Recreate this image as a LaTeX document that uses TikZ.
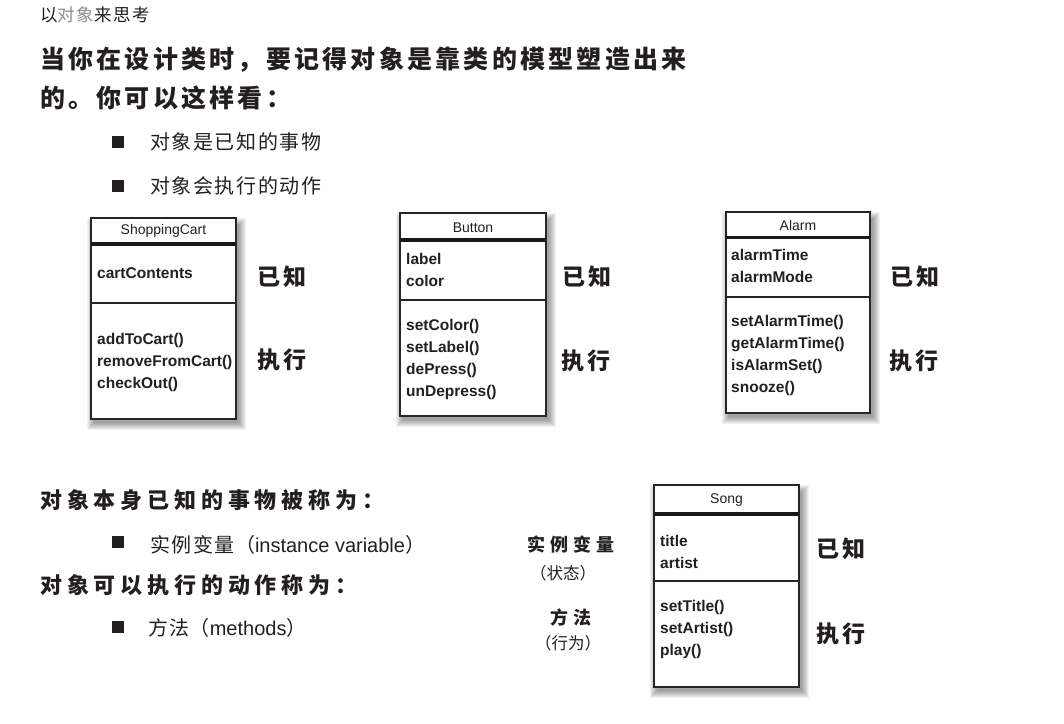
\documentclass[tikz,border=0pt]{standalone}
\usepackage{fontspec}
\setmainfont{Liberation Sans}
\newfontfamily\cjk{Noto Sans CJK SC}
\newfontfamily\cjkbody{Noto Sans CJK SC}[LetterSpace=8]
\newfontfamily\hand{Noto Sans CJK SC}[LetterSpace=13]
\newfontfamily\handwide{Noto Sans CJK SC}[LetterSpace=22]
\newfontfamily\handside{Noto Sans CJK SC}[LetterSpace=28]
\newfontfamily\cjkhdr{Noto Sans CJK SC}[LetterSpace=10]
\usetikzlibrary{calc,backgrounds}
\definecolor{ink}{HTML}{231F20}
\definecolor{greyink}{HTML}{8C8C8C}
\newcommand{\boxshadow}[1]{%
  \begin{scope}[on background layer]
    \foreach \i in {1,...,8}
      \fill[black, opacity=.055] ($(#1.north west)+(4-\i,8-\i)$) rectangle ($(#1.south east)+(2+\i,3+\i)$);
  \end{scope}}
\begin{document}
\begin{tikzpicture}[x=1pt,y=-1pt,
  umlbox/.style={draw=black!85, line width=1.5pt, fill=white, rectangle, inner sep=0pt, outer sep=0pt, anchor=north west},
  septhick/.style={draw=black!90, line width=3.5pt},
  septhin/.style={draw=black!85, line width=1.4pt},
  cname/.style={font=\fontsize{14}{16}\selectfont, text=ink, inner sep=0pt},
  attr/.style={font=\bfseries\fontsize{15.5}{18}\selectfont, text=ink, inner sep=0pt, anchor=base west},
  titletext/.style={font=\hand\bfseries\fontsize{25}{30}\selectfont, text=ink, inner sep=0pt, anchor=west},
  lbl/.style={font=\hand\bfseries\fontsize{23}{28}\selectfont, text=ink, inner sep=0pt, anchor=west},
  subhead/.style={font=\handwide\bfseries\fontsize{22}{26}\selectfont, text=ink, inner sep=0pt, anchor=west},
  sidelbl/.style={font=\handside\bfseries\fontsize{18}{22}\selectfont, text=ink, inner sep=0pt},
  sidenote/.style={font=\cjk\fontsize{16.5}{20}\selectfont, text=ink, inner sep=0pt},
  bodytext/.style={font=\cjkbody\fontsize{20}{24}\selectfont, text=ink, inner sep=0pt, anchor=west},
  bulletsq/.style={fill=ink, minimum size=12pt, inner sep=0pt, outer sep=0pt}]
\useasboundingbox (0,0) rectangle (1064,723);

% header
\node[font=\cjkhdr\fontsize{17.5}{20}\selectfont, text=ink, inner sep=0pt, anchor=west] (hdr) at (40,15) {以{\color{greyink}对象}来思考};

% title
\node[titletext] (title1) at (40,60) {当你在设计类时，要记得对象是靠类的模型塑造出来};
\node[titletext] (title2) at (40,98) {的。你可以这样看：};

% bullets
\node[bulletsq] (bq1) at (118,142) {};
\node[bodytext] (bt1) at (150,142) {对象是已知的事物};
\node[bulletsq] (bq2) at (118,186) {};
\node[bodytext] (bt2) at (150,186) {对象会执行的动作};

% ShoppingCart
\node[umlbox, minimum width=145pt, minimum height=201pt] (cart) at (91,218) {};
\boxshadow{cart}
\node[cname] (cartT) at ($(cart.north)+(0,13)$) {ShoppingCart};
\draw[septhick] ($(cart.north west)+(0,26)$) -- ($(cart.north east)+(0,26)$);
\draw[septhin] ($(cart.north west)+(0,85)$) -- ($(cart.north east)+(0,85)$);
\node[attr] (cartA1) at (97,278) {cartContents};
\node[attr] (cartM1) at (97,344) {addToCart()};
\node[attr] (cartM2) at (97,366) {removeFromCart()};
\node[attr] (cartM3) at (97,388) {checkOut()};
\node[lbl] (cartK) at (257,277) {已知};
\node[lbl] (cartD) at (257,360) {执行};

% Button
\node[umlbox, minimum width=146pt, minimum height=203pt] (btn) at (400,213) {};
\boxshadow{btn}
\node[cname] (btnT) at ($(btn.north)+(0,15)$) {Button};
\draw[septhick] ($(btn.north west)+(0,27)$) -- ($(btn.north east)+(0,27)$);
\draw[septhin] ($(btn.north west)+(0,87)$) -- ($(btn.north east)+(0,87)$);
\node[attr] (btnA1) at (406,264) {label};
\node[attr] (btnA2) at (406,286) {color};
\node[attr] (btnM1) at (406,330) {setColor()};
\node[attr] (btnM2) at (406,352) {setLabel()};
\node[attr] (btnM3) at (406,374) {dePress()};
\node[attr] (btnM4) at (406,396) {unDepress()};
\node[lbl] (btnK) at (562,277) {已知};
\node[lbl] (btnD) at (561,361) {执行};

% Alarm
\node[umlbox, minimum width=144pt, minimum height=201pt] (alarm) at (726,212) {};
\boxshadow{alarm}
\node[cname] (alarmT) at ($(alarm.north)+(0,13)$) {Alarm};
\draw[septhick] ($(alarm.north west)+(0,25.5)$) -- ($(alarm.north east)+(0,25.5)$);
\draw[septhin] ($(alarm.north west)+(0,85)$) -- ($(alarm.north east)+(0,85)$);
\node[attr] (alarmA1) at (731,260) {alarmTime};
\node[attr] (alarmA2) at (731,282) {alarmMode};
\node[attr] (alarmM1) at (731,326) {setAlarmTime()};
\node[attr] (alarmM2) at (731,348) {getAlarmTime()};
\node[attr] (alarmM3) at (731,370) {isAlarmSet()};
\node[attr] (alarmM4) at (731,392) {snooze()};
\node[lbl] (alarmK) at (890,277) {已知};
\node[lbl] (alarmD) at (889,361) {执行};

% lower text
\node[subhead] (sub1) at (40,500) {对象本身已知的事物被称为：};
\node[bulletsq] (bq3) at (118,542) {};
\node[bodytext] (bt3) at (150,545) {实例变量{\cjk （}{\rmfamily instance variable}{\cjk ）}};
\node[subhead] (sub2) at (40,585) {对象可以执行的动作称为：};
\node[bulletsq] (bq4) at (118,627) {};
\node[bodytext] (bt4) at (148,628) {方法{\cjk （}{\rmfamily methods}{\cjk ）}};

% side labels
\node[sidelbl] (sideA) at (571,545) {实例变量};
\node[sidenote] (sideAn) at (563,573) {（状态）};
\node[sidelbl] (sideB) at (571,618) {方法};
\node[sidenote] (sideBn) at (568,643) {（行为）};

% Song
\node[umlbox, minimum width=145pt, minimum height=202pt] (song) at (654,485) {};
\boxshadow{song}
\node[cname] (songT) at ($(song.north)+(0,15)$) {Song};
\draw[septhick] ($(song.north west)+(0,29)$) -- ($(song.north east)+(0,29)$);
\draw[septhin] ($(song.north west)+(0,96)$) -- ($(song.north east)+(0,96)$);
\node[attr] (songA1) at (660,546) {title};
\node[attr] (songA2) at (660,568) {artist};
\node[attr] (songM1) at (660,611) {setTitle()};
\node[attr] (songM2) at (660,633) {setArtist()};
\node[attr] (songM3) at (660,655) {play()};
\node[lbl] (songK) at (816,549) {已知};
\node[lbl] (songD) at (816,634) {执行};
\end{tikzpicture}
\end{document}
